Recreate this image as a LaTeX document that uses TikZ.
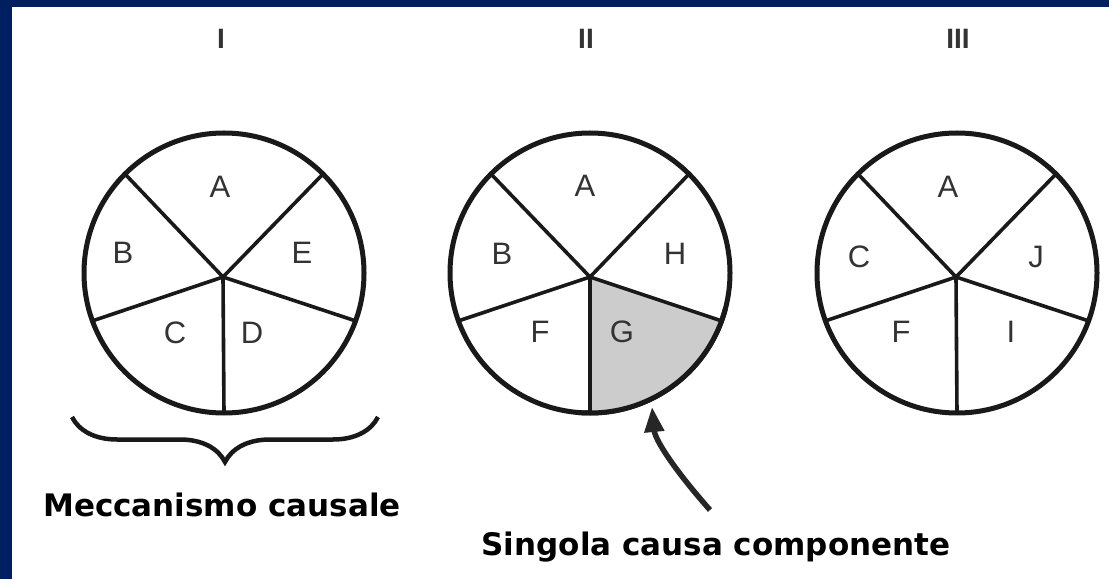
\documentclass[tikz,border=0pt]{standalone}
\usepackage{fontspec}
\setmainfont{Liberation Sans}
\newfontfamily\capfont{DejaVu Sans}
\usetikzlibrary{arrows.meta,decorations.pathreplacing,backgrounds,calc}
\definecolor{navy}{RGB}{0,31,96}
\definecolor{sectgray}{RGB}{204,204,204}
\tikzset{
  wheel/.style={circle,draw,black!90,line width=5pt,minimum size=280pt,inner sep=0pt,outer sep=0pt},
  spoke/.style={line width=3.6pt,black!90,line join=round},
  sect/.style={font=\fontsize{31}{34}\selectfont,text=black!80},
  roman/.style={font=\bfseries\fontsize{28}{32}\selectfont,anchor=base,text=black!80},
  captext/.style={font=\capfont\bfseries\fontsize{31}{36}\selectfont,anchor=base},
  pointer/.style={line width=5.5pt,black!85,-{Triangle[length=25pt,width=19pt]}}
}
\begin{document}
\begin{tikzpicture}[x=1pt,y=1pt]
\useasboundingbox (0,0) rectangle (1109,579);
\begin{scope}[on background layer]
\fill[white] (0,0) rectangle (1109,579);
\fill[navy] (0,0) rectangle (12,579);
\fill[navy] (0,572) rectangle (1109,579);
\end{scope}
% numerals
\node[roman] (n1) at (221,530) {I};
\node[roman] (n2) at (586,530) {II};
\node[roman] (n3) at (958,530) {III};
% wheel I
\node[wheel] (w1) at (224,306) {};
\coordinate (h1) at (223,302);
\draw[spoke] (w1.135) -- (h1) -- (w1.45);
\draw[spoke] (w1.200) -- (h1) -- (w1.340);
\draw[spoke] (h1) -- (w1.270);
\node[sect] (w1a) at ($(h1)+(-3,90)$) {A};
\node[sect] (w1b) at ($(h1)+(-100,24)$) {B};
\node[sect] (w1e) at ($(h1)+(79,24)$) {E};
\node[sect] (w1c) at ($(h1)+(-48,-56)$) {C};
\node[sect] (w1d) at ($(h1)+(29,-56)$) {D};
% wheel II
\node[wheel] (w2) at (590,306) {};
\coordinate (h2) at (590,302);
\fill[sectgray] (h2) -- (w2.270) arc[start angle=270,end angle=340,radius=140pt] -- cycle;
\draw[black!90,line width=5pt] (w2.265) arc[start angle=265,end angle=345,radius=140pt];
\draw[spoke] (w2.135) -- (h2) -- (w2.45);
\draw[spoke] (w2.200) -- (h2) -- (w2.340);
\draw[spoke] (h2) -- (w2.270);
\node[sect] (w2a) at ($(h2)+(-5,91)$) {A};
\node[sect] (w2b) at ($(h2)+(-88,23)$) {B};
\node[sect] (w2h) at ($(h2)+(85,23)$) {H};
\node[sect] (w2f) at ($(h2)+(-50,-55)$) {F};
\node[sect] (w2g) at ($(h2)+(32,-55)$) {G};
% wheel III
\node[wheel] (w3) at (957,306) {};
\coordinate (h3) at (956,302);
\draw[spoke] (w3.135) -- (h3) -- (w3.45);
\draw[spoke] (w3.200) -- (h3) -- (w3.340);
\draw[spoke] (h3) -- (w3.270);
\node[sect] (w3a) at ($(h3)+(-8,90)$) {A};
\node[sect] (w3c) at ($(h3)+(-97,20)$) {C};
\node[sect] (w3j) at ($(h3)+(80,20)$) {J};
\node[sect] (w3f) at ($(h3)+(-55,-55)$) {F};
\node[sect] (w3i) at ($(h3)+(55,-55)$) {I};
% brace and captions
\coordinate (bl) at (72,162);
\coordinate (br) at (378,162);
\draw[line width=4.5pt,black!90,decorate,decoration={brace,amplitude=45pt}] (br) -- (bl);
\node[captext] (mech) at (222,63) {Meccanismo causale};
\node[captext] (comp) at (716,24) {Singola causa componente};
\coordinate (gtail) at (710,69);
\coordinate (gtip) at (652,172);
\draw[pointer] (gtail) .. controls (672,112) and (655,140) .. (gtip);
\end{tikzpicture}
\end{document}
